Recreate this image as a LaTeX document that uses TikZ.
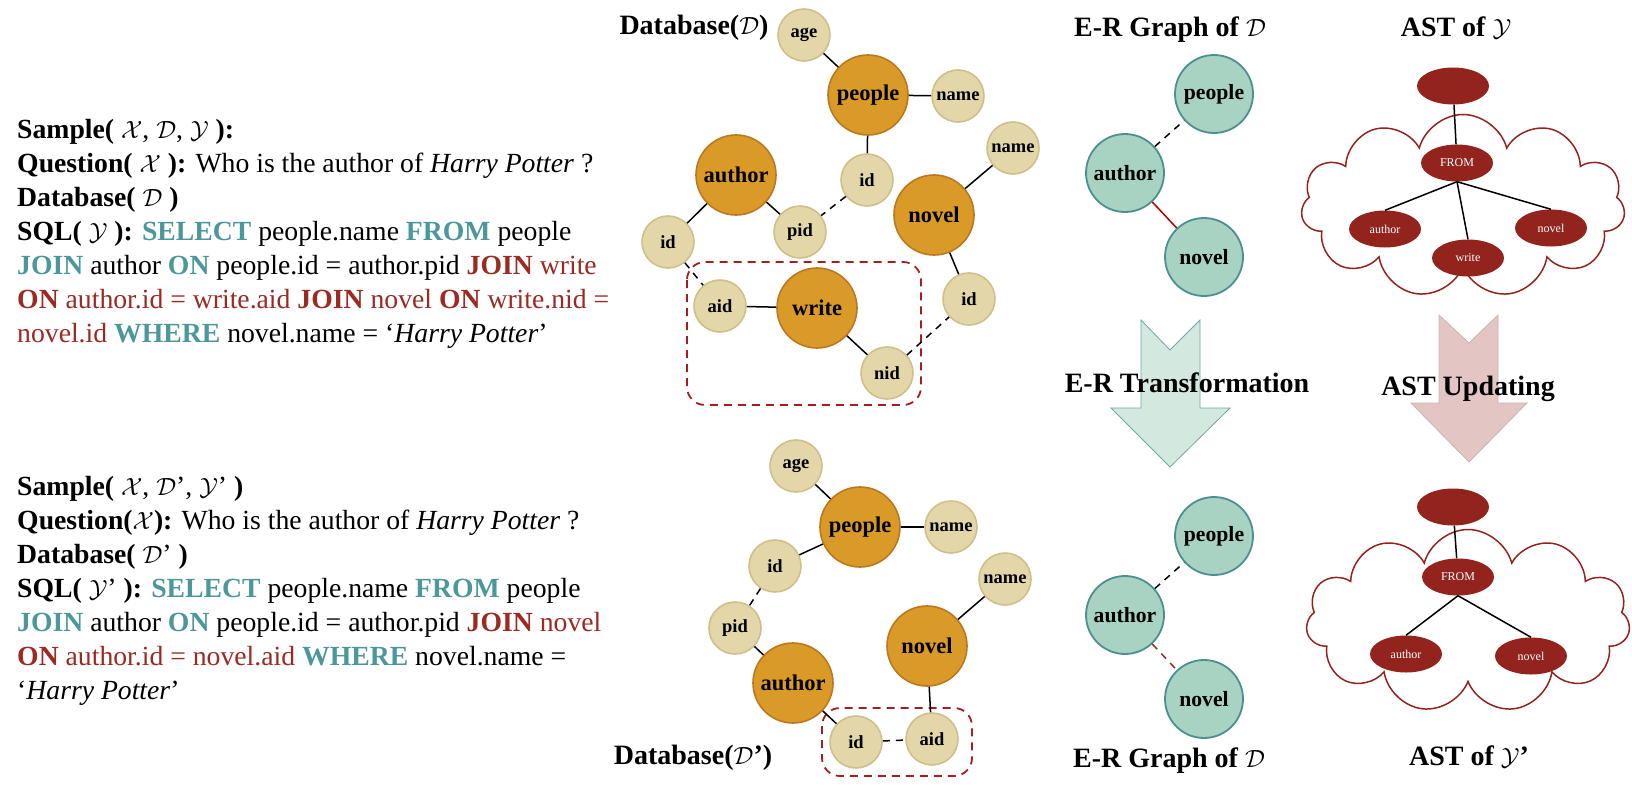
\documentclass[tikz,border=0pt]{standalone}
\usepackage{amsmath}
\usepackage{fontspec}
\setmainfont{Liberation Serif}
\usepackage{xcolor}
\usepackage{tikz}
\usetikzlibrary{shapes.geometric, shapes.symbols}
\definecolor{tableColor}{HTML}{DA9A28}
\definecolor{tableEdge}{HTML}{BC7820}
\definecolor{columnColor}{HTML}{E3D6A9}
\definecolor{columnEdge}{HTML}{D0BF8A}
\definecolor{entityColor}{HTML}{A8D2C1}
\definecolor{entityEdge}{HTML}{4D8F8F}
\definecolor{astColor}{HTML}{93241D}
\definecolor{keyTeal}{HTML}{4C979A}
\definecolor{keyRed}{HTML}{9B2A22}
\definecolor{boxRed}{HTML}{A31F1F}
\definecolor{erArrowFill}{HTML}{D3E8DF}
\definecolor{erArrowEdge}{HTML}{6FA7A7}
\definecolor{astArrowFill}{HTML}{E3C5C3}
\definecolor{astArrowEdge}{HTML}{CBB4B2}
\newcommand{\kwT}[1]{\textcolor{keyTeal}{\textbf{#1}}}
\newcommand{\kwR}[1]{\textcolor{keyRed}{\textbf{#1}}}
\newcommand{\txR}[1]{\textcolor{keyRed}{#1}}

\begin{document}
\begin{tikzpicture}[x=1pt, y=-1pt,
    sampletext/.style={align=left, inner sep=0pt, anchor=north west, font=\fontsize{27.7}{34}\selectfont},
    title/.style={font=\fontsize{28}{34}\selectfont\bfseries},
    tbl/.style={circle, draw=tableEdge, fill=tableColor, line width=1.6pt, minimum size=80pt, inner sep=0pt, font=\fontsize{22.5}{24}\selectfont\bfseries},
    col/.style={circle, draw=columnEdge, fill=columnColor, line width=1.6pt, minimum size=52pt, inner sep=0pt, font=\fontsize{18.5}{20}\selectfont\bfseries},
    ent/.style={circle, draw=entityEdge, fill=entityColor, line width=1.8pt, minimum size=78pt, inner sep=0pt, font=\fontsize{21.7}{24}\selectfont\bfseries},
    ast/.style={ellipse, fill=astColor, minimum width=72pt, minimum height=37pt, inner sep=0pt, text=white, font=\fontsize{12}{13}\selectfont},
    link/.style={line width=1.5pt},
    fk/.style={link, dash pattern=on 7pt off 6pt},
    selbox/.style={draw=boxRed, line width=1.8pt, dash pattern=on 8pt off 6pt, rounded corners=18pt},
    cloudy/.style={cloud, cloud puffs=11, draw=astColor, fill=white, line width=1.5pt, minimum width=324pt, minimum height=183pt}]
    \useasboundingbox (0,0) rectangle (1632,797);

    % left: the two samples
    \node[sampletext] (sampleOrig) at (17,114.2) {\strut\textbf{Sample(} $\mathcal{X}$, $\mathcal{D}$, $\mathcal{Y}$ \textbf{):}\\
        \textbf{Question(} $\mathcal{X}$ \textbf{):} Who is the author of \textit{Harry Potter} ?\\
        \textbf{Database(} $\mathcal{D}$ \textbf{)}\\
        \textbf{SQL(} $\mathcal{Y}$ \textbf{):} \kwT{SELECT} people.name \kwT{FROM} people\\
        \kwT{JOIN} author \kwT{ON} people.id = author.pid \kwR{JOIN} \txR{write}\\
        \kwR{ON} \txR{author.id = write.aid} \kwR{JOIN} \txR{novel} \kwR{ON} \txR{write.nid =}\\
        \txR{novel.id} \kwT{WHERE} novel.name = `\textit{Harry Potter}'};
    \node[sampletext] (sampleAug) at (17,471.2) {\strut\textbf{Sample(} $\mathcal{X}$, $\mathcal{D}$', $\mathcal{Y}$' \textbf{)}\\
        \textbf{Question(}$\mathcal{X}$\textbf{):} Who is the author of \textit{Harry Potter} ?\\
        \textbf{Database(} $\mathcal{D}$' \textbf{)}\\
        \textbf{SQL(} $\mathcal{Y}$' \textbf{):} \kwT{SELECT} people.name \kwT{FROM} people\\
        \kwT{JOIN} author \kwT{ON} people.id = author.pid \kwR{JOIN} \txR{novel}\\
        \kwR{ON} \txR{author.id = novel.aid} \kwT{WHERE} novel.name =\\
        `\textit{Harry Potter}'};

    % database D
    \node[title] (dbTitle) at (694,28) {Database($\mathcal{D}$)};
    \draw[selbox] (687,262) rectangle (921,405);
    \node[col] (ageD) at (804,35) {age};
    \node[tbl] (peopleD) at (868,95) {people};
    \node[col] (nameD) at (958,96) {name};
    \node[col] (idPeopleD) at (867,180) {id};
    \node[tbl] (authorD) at (736,175) {author};
    \node[col] (pidD) at (800,232) {pid};
    \node[col] (idAuthorD) at (668,242) {id};
    \node[tbl] (novelD) at (934,215) {novel};
    \node[col] (nameNovelD) at (1013,148) {name};
    \node[col] (idNovelD) at (969,299) {id};
    \node[col] (aidD) at (720,306) {aid};
    \node[tbl] (writeD) at (817,308) {write};
    \node[col] (nidD) at (887,373) {nid};
    \draw[link] (ageD) -- (peopleD);
    \draw[link] (peopleD) -- (nameD);
    \draw[link] (peopleD) -- (idPeopleD);
    \draw[fk] (idPeopleD) -- (pidD);
    \draw[link] (pidD) -- (authorD);
    \draw[link] (authorD) -- (idAuthorD);
    \draw[fk] (idAuthorD) -- (aidD);
    \draw[link] (aidD) -- (writeD);
    \draw[link] (writeD) -- (nidD);
    \draw[fk] (nidD) -- (idNovelD);
    \draw[link] (idNovelD) -- (novelD);
    \draw[link] (novelD) -- (nameNovelD);

    % database D'
    \node[title] (dbTitleP) at (693,758) {Database($\mathcal{D}$')};
    \draw[selbox] (822,708) rectangle (972,776);
    \node[col] (ageP) at (796,466) {age};
    \node[tbl] (peopleP) at (860,527) {people};
    \node[col] (nameP) at (951,527) {name};
    \node[col] (idPeopleP) at (775,566) {id};
    \node[col] (pidP) at (735,628) {pid};
    \node[tbl] (authorP) at (793,683) {author};
    \node[col] (idAuthorP) at (856,742) {id};
    \node[col] (aidP) at (932,739) {aid};
    \node[tbl] (novelP) at (927,646) {novel};
    \node[col] (nameNovelP) at (1005,579) {name};
    \draw[link] (ageP) -- (peopleP);
    \draw[link] (peopleP) -- (nameP);
    \draw[link] (peopleP) -- (idPeopleP);
    \draw[fk] (idPeopleP) -- (pidP);
    \draw[link] (pidP) -- (authorP);
    \draw[link] (authorP) -- (idAuthorP);
    \draw[fk] (idAuthorP) -- (aidP);
    \draw[link] (aidP) -- (novelP);
    \draw[link] (novelP) -- (nameNovelP);

    % E-R graphs
    \node[title] (erTitle) at (1170,30) {E-R Graph of $\mathcal{D}$};
    \node[ent] (erPeople) at (1214,94) {people};
    \node[ent] (erAuthor) at (1125,173) {author};
    \node[ent] (erNovel) at (1204,257) {novel};
    \draw[fk] (erAuthor) -- (erPeople);
    \draw[link, red!70!black] (erAuthor) -- (erNovel);

    \node[title] (erTitleP) at (1169,761) {E-R Graph of $\mathcal{D}$};
    \node[ent] (erPeopleP) at (1214,536) {people};
    \node[ent] (erAuthorP) at (1125,615) {author};
    \node[ent] (erNovelP) at (1204,699) {novel};
    \draw[fk] (erAuthorP) -- (erPeopleP);
    \draw[fk, keyRed] (erAuthorP) -- (erNovelP);

    % transformation arrows
    \filldraw[fill=erArrowFill, draw=erArrowEdge, line width=0.8pt] (1141,320) -- (1170,350) -- (1200,320) -- (1200,408) -- (1230,408) -- (1170,467) -- (1111,408) -- (1141,408) -- cycle;
    \filldraw[fill=astArrowFill, draw=astArrowEdge, line width=0.8pt] (1439,315) -- (1469,343) -- (1498,315) -- (1498,403) -- (1527,403) -- (1469,462) -- (1411,403) -- (1439,403) -- cycle;
    \node[title] (erStep) at (1187,383) {E-R Transformation};
    \node[title] (astStep) at (1468,389) {AST Updating};

    % ASTs
    \node[title] (astTitle) at (1456,28) {AST of $\mathcal{Y}$};
    \node[cloudy] (fromCloud) at (1463,206) {};
    \node[ast] (rootY) at (1453,86) {};
    \node[ast] (fromY) at (1457,163) {FROM};
    \node[ast] (authorY) at (1385,229) {author};
    \node[ast] (writeY) at (1468,258) {write};
    \node[ast] (novelY) at (1551,228) {novel};
    \draw[link] (rootY) -- (fromY);
    \draw[link] (fromY.south) -- (authorY.north);
    \draw[link] (fromY.south) -- (writeY.north);
    \draw[link] (fromY.south) -- (novelY.north);

    \node[title] (astTitleP) at (1469,757) {AST of $\mathcal{Y}$'};
    \node[cloudy] (fromCloudP) at (1468,621) {};
    \node[ast] (rootP) at (1453,507) {};
    \node[ast] (fromP) at (1458,577) {FROM};
    \node[ast] (authorYP) at (1406,654) {author};
    \node[ast] (novelYP) at (1531,656) {novel};
    \draw[link] (rootP) -- (fromP);
    \draw[link] (fromP.south) -- (authorYP.north);
    \draw[link] (fromP.south) -- (novelYP.north);
\end{tikzpicture}
\end{document}
